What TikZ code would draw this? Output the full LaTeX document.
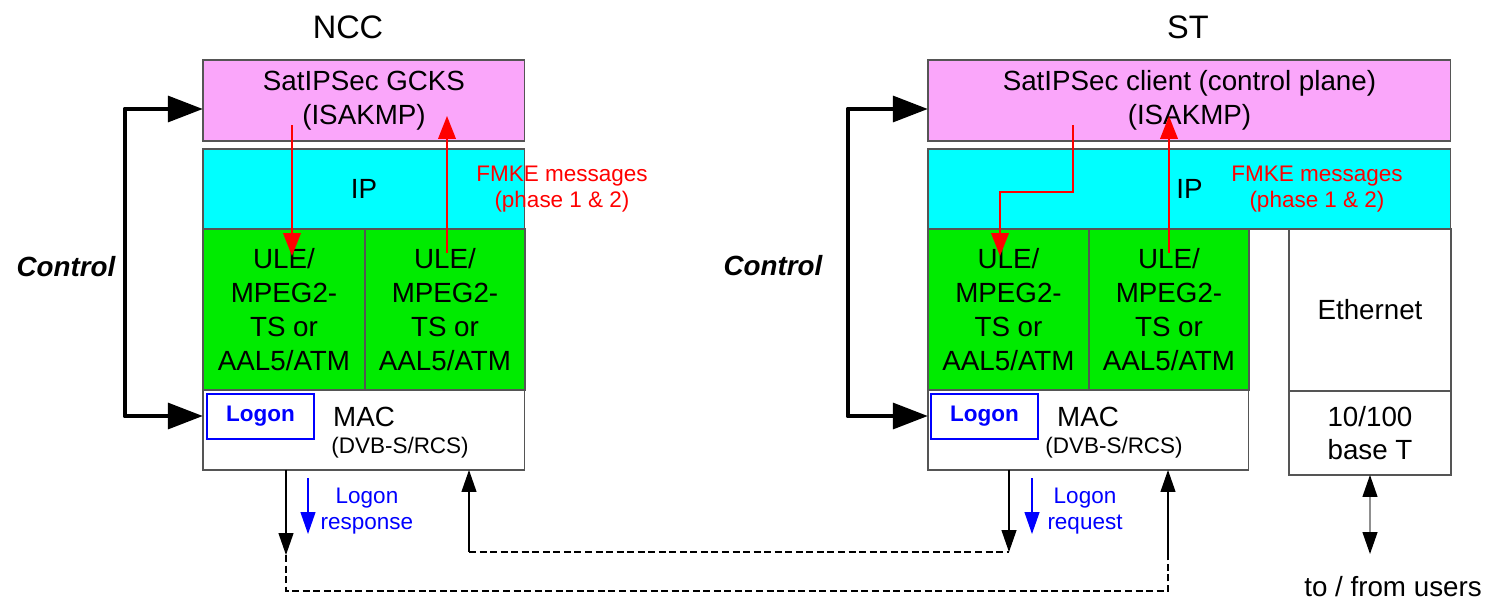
\documentclass[tikz,border=0pt]{standalone}
\usepackage{fontspec}
\setmainfont{Liberation Sans}
\usetikzlibrary{arrows.meta}

\definecolor{satpink}{RGB}{250,166,250}
\definecolor{ipcyan}{RGB}{0,255,255}
\definecolor{ulegreen}{RGB}{0,235,0}
\definecolor{boxgray}{RGB}{85,85,85}
\newcommand{\headtxt}{\fontsize{18.5}{22}\selectfont}
\newcommand{\bigtxt}{\fontsize{15.8}{19.2}\selectfont}
\newcommand{\smalltxt}{\fontsize{12.8}{15}\selectfont}

\begin{document}
\begin{tikzpicture}[x=0.02cm,y=-0.02cm,
  layer/.style={draw=boxgray, line width=0.6pt, inner sep=0pt, outer sep=0pt,
    anchor=north west, align=center, font=\bigtxt},
  logonbox/.style={draw=blue, line width=1.1pt, inner sep=0pt, anchor=north west,
    minimum width=2.14cm, minimum height=0.9cm, text=blue, font=\smalltxt\bfseries},
  headtext/.style={inner sep=0pt, font=\headtxt},
  bigtext/.style={inner sep=0pt, align=center, font=\bigtxt},
  smalltext/.style={inner sep=0pt, align=center, font=\smalltxt},
  ctrlarrow/.style={line width=2.8pt, line join=round,
    {Triangle[length=20pt,width=14.5pt]}-{Triangle[length=20pt,width=14.5pt]}},
  thinarrow/.style={line width=0.75pt, -{Triangle[length=12.5pt,width=8.5pt]}},
  redarrow/.style={red, line width=1pt, -{Triangle[length=13pt,width=10pt]}},
  bluearrow/.style={blue, line width=0.75pt, -{Triangle[length=12.5pt,width=8.5pt]}},
  ethlink/.style={draw=boxgray, line width=0.75pt,
    {Triangle[length=12.5pt,width=8.5pt,color=black]}-{Triangle[length=12.5pt,width=8.5pt,color=black]}},
  dashline/.style={line width=0.6pt, dash pattern=on 4pt off 2pt}]
\useasboundingbox (0,0) rectangle (1488,600);

% NCC stack
\node[headtext] (ncc) at (348,27) {NCC};
\node[layer, fill=satpink, minimum width=6.44cm, minimum height=1.62cm] (gcks) at (203,60) {SatIPSec GCKS\\(ISAKMP)};
\node[layer, fill=ipcyan, minimum width=6.44cm, minimum height=1.6cm] (ncip) at (203,149) {IP};
\node[layer, fill=ulegreen, minimum width=3.24cm, minimum height=3.22cm] (nculea) at (203,229) {ULE/\\MPEG2-\\TS or\\AAL5/ATM};
\node[layer, fill=ulegreen, minimum width=3.2cm, minimum height=3.22cm] (nculeb) at (365,229) {ULE/\\MPEG2-\\TS or\\AAL5/ATM};
\node[layer, fill=white, minimum width=6.44cm, minimum height=1.6cm] (ncmac) at (203,390) {};
\node[logonbox] (nclogon) at (206,393) {Logon};
\node[bigtext] (ncmactxt) at (364,417) {MAC};
\node[smalltext] (ncdvb) at (400,448) {(DVB-S/RCS)};
\node[smalltext, text=red] (ncfmke) at (562,189) {FMKE messages\\(phase 1 \& 2)};
\node[bigtext, font=\bigtxt\bfseries\itshape] (ncctrl) at (66,267) {Control};
\node[smalltext, text=blue] (ncresp) at (367,511) {Logon\\response};

% ST stack
\node[headtext] (st) at (1188,27) {ST};
\node[layer, fill=satpink, minimum width=10.46cm, minimum height=1.62cm] (client) at (928,60) {SatIPSec client (control plane)\\(ISAKMP)};
\node[layer, fill=ipcyan, minimum width=10.46cm, minimum height=1.6cm] (stip) at (928,149) {IP};
\node[layer, fill=ulegreen, minimum width=3.22cm, minimum height=3.22cm] (stulea) at (928,229) {ULE/\\MPEG2-\\TS or\\AAL5/ATM};
\node[layer, fill=ulegreen, minimum width=3.2cm, minimum height=3.22cm] (stuleb) at (1089,229) {ULE/\\MPEG2-\\TS or\\AAL5/ATM};
\node[layer, fill=white, minimum width=6.42cm, minimum height=1.6cm] (stmac) at (928,390) {};
\node[logonbox] (stlogon) at (930,393) {Logon};
\node[bigtext] (stmactxt) at (1088,417) {MAC};
\node[smalltext] (stdvb) at (1114,448) {(DVB-S/RCS)};
\node[layer, fill=white, minimum width=3.24cm, minimum height=3.24cm] (eth) at (1289,229) {Ethernet};
\node[layer, fill=white, minimum width=3.24cm, minimum height=1.68cm] (base) at (1289,391) {10/100\\base T};
\node[smalltext, text=red] (stfmke) at (1317,189) {FMKE messages\\(phase 1 \& 2)};
\node[bigtext, font=\bigtxt\bfseries\itshape] (stctrl) at (773,266) {Control};
\node[smalltext, text=blue] (streq) at (1085,511) {Logon\\request};
\node[bigtext] (users) at (1393,587) {to / from users};

% control loops
\coordinate (ncbar) at (125,416);
\coordinate (stbar) at (848,416);
\draw[ctrlarrow] ([yshift=-0.17cm]gcks.west) -| (ncbar) -- (ncmac.west |- ncbar);
\draw[ctrlarrow] ([yshift=-0.17cm]client.west) -| (stbar) -- (stmac.west |- stbar);

% FMKE messages
\coordinate (ncdn) at (292,125);
\coordinate (ncdnend) at (292,256);
\coordinate (ncup) at (447,253);
\coordinate (ncupend) at (447,116);
\draw[redarrow] (ncdn) -- (ncdnend);
\draw[redarrow] (ncup) -- (ncupend);
\coordinate (stdn) at (1073,125);
\coordinate (stbend) at (1073,192);
\coordinate (stdnend) at (1000,256);
\coordinate (stup) at (1169,253);
\coordinate (stupend) at (1169,116);
\draw[redarrow] (stdn) -- (stbend) -| (stdnend);
\draw[redarrow] (stup) -- (stupend);

% logon exchange
\coordinate (ncout) at (286,555);
\coordinate (ncin) at (469,552);
\coordinate (stout) at (1009,552);
\coordinate (stin) at (1168,553);
\draw[thinarrow] (ncmac.south -| ncout) -- (ncout);
\draw[thinarrow] (ncin) -- (ncmac.south -| ncin);
\draw[thinarrow] (stmac.south -| stout) -- (stout);
\draw[thinarrow] (stin) -- (stmac.south -| stin);
\draw[dashline] (ncout) -- ++(0,36) -| (stin);
\draw[dashline] (ncin) -- (stout);
\coordinate (ncblue) at (308,478);
\coordinate (stblue) at (1032,478);
\draw[bluearrow] (ncblue) -- ++(0,56);
\draw[bluearrow] (stblue) -- ++(0,56);

% users
\coordinate (ethend) at (1370,554);
\draw[ethlink] (base.south) -- (ethend);
\end{tikzpicture}
\end{document}
